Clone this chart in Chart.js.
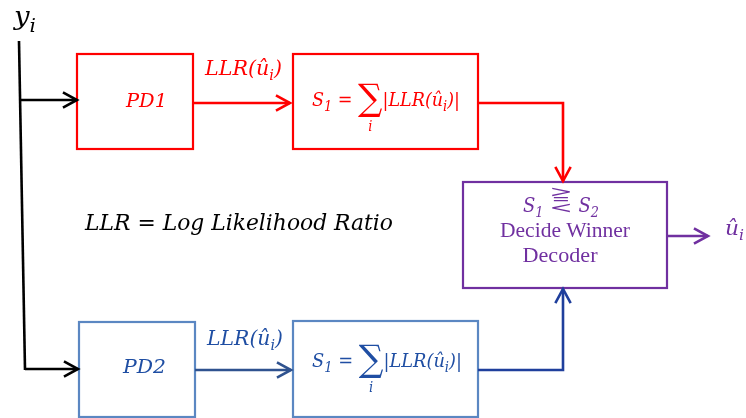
<!DOCTYPE html>
<html>
<head>
<meta charset="utf-8">
<script src="https://cdn.jsdelivr.net/npm/chart.js@4.4.1/dist/chart.umd.min.js"></script>
<style>
  html, body { margin: 0; padding: 0; background: #fff; }
  #wrap { width: 746px; height: 418px; }
</style>
</head>
<body>
<div id="wrap"><canvas id="diagram" width="746" height="418"></canvas></div>
<script>
// blocks (diagram units = pixels of the 746x418 picture)
const blockIds    = ["pd1", "sum1", "pd2", "sum2", "decide"];
const blockLeft   = [77, 293, 79, 293, 463];
const blockTop    = [54, 54, 322, 321, 182];
const blockRight  = [193, 478, 195, 478, 667];
const blockBottom = [149, 149, 417, 417, 288];
const blockColors = ["#ff0000", "#ff0000", "#5b87c2", "#5b87c2", "#7030a0"];

// wires: list of points, last point gets an arrow head if arrow = true
const wirePoints = [
    [[19, 41], [25, 370]],
    [[21, 100], [77, 100]],
    [[25, 369], [78, 369]],
    [[193, 103], [290, 103]],
    [[478, 103], [563, 103], [563, 181]],
    [[195, 370], [291, 370]],
    [[478, 370], [563, 370], [563, 289]],
    [[667, 236], [708, 236]]
];
const wireArrow  = [false, true, true, true, true, true, true, true];
const wireColors = ["#000", "#000", "#000", "#ff0000", "#ff0000", "#2f528f", "#1f3f9c", "#7030a0"];

// labels ("_x" = subscript, "@x" = under previous glyph)
const labelTexts = [
    "y_i",
    "PD1",
    "LLR(û_i)",
    "S_1 = ∑@i|LLR(û_i)|",
    "LLR = Log Likelihood Ratio",
    "S_1 ⋛ S_2",
    "Decide Winner",
    "Decoder",
    "û_i",
    "PD2",
    "LLR(û_i)",
    "S_1 = ∑@i|LLR(û_i)|"
];
// centre x, baseline y, font size, total width
const labelX = [25, 146.5, 243.5, 386, 239, 561, 565, 560, 734.5, 144.5, 245, 387];
const labelY = [25, 107, 75, 106, 230, 212, 237, 262, 235, 373, 345, 367];
const labelSize = [26, 19, 20, 19, 23, 21, 22, 22, 21, 19, 20, 19];
const labelWidth = [22, 41, 77, 148, 308, 76, 130, 75, 19, 43, 76, 150];
const labelMath = [true, true, true, true, true, true, false, false, true, true, true, true];
const labelColors = ["#000", "#ff0000", "#ff0000", "#ff0000", "#000", "#7030a0", "#7030a0", "#7030a0",
    "#7030a0", "#1f4ea3", "#1f4ea3", "#1f4ea3"];

function parseRuns(str) {
    const runs = [];
    let buf = "";
    const flush = () => { if (buf) { runs.push({ t: buf, kind: "n" }); buf = ""; } };
    for (let k = 0; k < str.length; k++) {
        const c = str[k];
        if (c === "_" || c === "@") {
            flush();
            runs.push({ t: str[k + 1], kind: c === "_" ? "sub" : "under" });
            k++;
        } else if (c === "∑" || c === "⋛") {
            flush();
            runs.push({ t: c, kind: c === "∑" ? "big" : "rel" });
        } else {
            buf += c;
        }
    }
    flush();
    return runs;
}

function fontFor(kind, size, math) {
    const fam = math ? "'DejaVu Serif'" : "'Liberation Serif'";
    const st = math ? "italic " : "";
    if (kind === "sub" || kind === "under") return st + Math.round(size * 0.72) + "px " + fam;
    if (kind === "big") return "40px 'DejaVu Serif'";
    if (kind === "rel") return "40px 'DejaVu Sans'";
    return st + size + "px " + fam;
}

// glyph scaled to a given height, with its vertical centre offset
function glyphFit(ctx, ch, targetH, sxf) {
    const m = ctx.measureText(ch);
    const h = m.actualBoundingBoxAscent + m.actualBoundingBoxDescent;
    const k = targetH / h;
    return { k: k, sxf: sxf, w: m.width * k * sxf, off: (m.actualBoundingBoxAscent - m.actualBoundingBoxDescent) / 2 };
}

function drawFitted(ctx, ch, fit, x, centre) {
    ctx.save();
    ctx.translate(x, centre);
    ctx.scale(fit.k * fit.sxf, fit.k);
    ctx.fillText(ch, 0, fit.off);
    ctx.restore();
}

function drawLabel(ctx, text, cx, cy, size, width, math, color) {
    const runs = parseRuns(text);
    let total = 0;
    runs.forEach(r => {
        ctx.font = fontFor(r.kind, size, math);
        if (r.kind === "big") r.fit = glyphFit(ctx, r.t, size * 1.8, 1);
        if (r.kind === "rel") {
            // greater / equal / less stacked
            r.parts = [glyphFit(ctx, ">", size * 0.45, 2.0),
                       glyphFit(ctx, "=", size * 0.22, 1.7),
                       glyphFit(ctx, "<", size * 0.45, 2.0)];
            r.w = r.parts[0].w;
        }
        if (r.kind === "under") r.w = 0;
        else if (r.fit) r.w = r.fit.w;
        else if (!r.parts) r.w = ctx.measureText(r.t).width;
        total += r.w;
    });
    const sx = width / total;
    ctx.save();
    ctx.translate(cx - width / 2, cy);
    ctx.scale(sx, 1);
    ctx.fillStyle = color;
    ctx.textBaseline = "alphabetic";
    ctx.textAlign = "left";
    let x = 0;
    let prev = null;
    runs.forEach(r => {
        ctx.font = fontFor(r.kind, size, math);
        if (r.kind === "under" && prev) {
            ctx.textAlign = "center";
            ctx.fillText(r.t, prev.x + prev.w / 2, size * 1.3);
            ctx.textAlign = "left";
        } else if (r.fit) {
            drawFitted(ctx, r.t, r.fit, x, -size * 0.3);
            r.x = x;
            x += r.w;
        } else if (r.parts) {
            drawFitted(ctx, ">", r.parts[0], x, -size * 0.98);
            drawFitted(ctx, "=", r.parts[1], x + (r.w - r.parts[1].w) / 2, -size * 0.6);
            drawFitted(ctx, "<", r.parts[2], x, -size * 0.22);
            r.x = x;
            x += r.w;
        } else {
            const dy = r.kind === "sub" ? size * 0.25 : 0;
            ctx.fillText(r.t, x, dy);
            r.x = x;
            x += r.w;
        }
        prev = r;
    });
    ctx.restore();
}

const diagramPlugin = {
    id: "diagram",
    afterDraw(chart) {
        const ctx = chart.ctx;
        const sx = chart.scales.x, sy = chart.scales.y;
        const px = v => sx.getPixelForValue(v);
        const py = v => sy.getPixelForValue(v);
        ctx.save();
        ctx.lineCap = "butt";
        ctx.lineJoin = "miter";

        // blocks
        ctx.lineWidth = 2.2;
        blockIds.forEach((id, i) => {
            ctx.strokeStyle = blockColors[i];
            const x0 = px(blockLeft[i]), y0 = py(blockTop[i]);
            ctx.strokeRect(x0, y0, px(blockRight[i]) - x0, py(blockBottom[i]) - y0);
        });

        // wires
        wirePoints.forEach((pts, i) => {
            ctx.strokeStyle = wireColors[i];
            ctx.lineWidth = 2.6;
            ctx.beginPath();
            pts.forEach((p, k) => {
                if (k === 0) ctx.moveTo(px(p[0]), py(p[1]));
                else ctx.lineTo(px(p[0]), py(p[1]));
            });
            ctx.stroke();
            if (wireArrow[i]) {
                const a = pts[pts.length - 2], b = pts[pts.length - 1];
                const ang = Math.atan2(py(b[1]) - py(a[1]), px(b[0]) - px(a[0]));
                const len = 16, spread = 0.5;
                const tx = px(b[0]), ty = py(b[1]);
                ctx.beginPath();
                ctx.moveTo(tx - len * Math.cos(ang - spread), ty - len * Math.sin(ang - spread));
                ctx.lineTo(tx, ty);
                ctx.lineTo(tx - len * Math.cos(ang + spread), ty - len * Math.sin(ang + spread));
                ctx.stroke();
            }
        });

        // labels
        labelTexts.forEach((t, i) => {
            drawLabel(ctx, t, px(labelX[i]), py(labelY[i]), labelSize[i], labelWidth[i],
                labelMath[i], labelColors[i]);
        });
        ctx.restore();
    }
};

new Chart(document.getElementById("diagram"), {
    type: "scatter",
    data: { datasets: [{ data: [], showLine: false }] },
    options: {
        responsive: false,
        animation: false,
        events: [],
        layout: { padding: 0 },
        plugins: { legend: { display: false }, tooltip: { enabled: false }, title: { display: false } },
        scales: {
            x: { type: "linear", min: 0, max: 746, display: false },
            y: { type: "linear", min: 0, max: 418, reverse: true, display: false }
        }
    },
    plugins: [diagramPlugin]
});
</script>
</body>
</html>
